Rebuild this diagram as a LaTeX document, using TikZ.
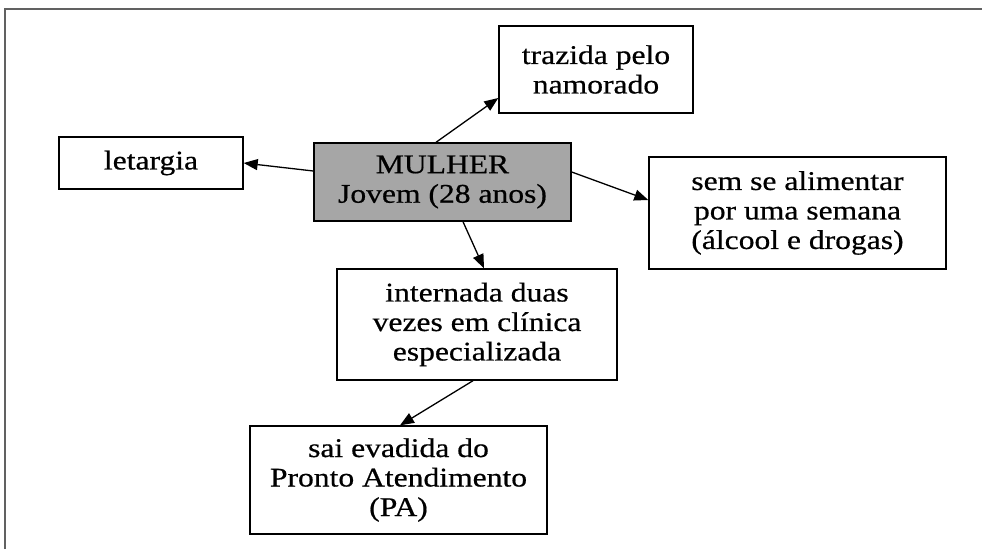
\documentclass[tikz,border=0pt]{standalone}
\usepackage{fontspec}
\setmainfont[FakeStretch=1.17,FakeBold=0.6]{Liberation Serif}
\usepackage{tikz}
\usetikzlibrary{arrows.meta}

\begin{document}
\begin{tikzpicture}[x=1pt,y=-1pt]
		\tikzset{caixa/.style={draw=black,line width=1.4pt,fill=white,inner sep=0pt,align=center,
				font=\fontsize{27}{29.5}\selectfont},
			seta/.style={draw=black,line width=1.3pt,-{Triangle[length=14pt,width=11pt]}}}
		\useasboundingbox (0,0) rectangle (982,549);
		\draw[black!62,line width=2.4pt] (5,549) |- (982,9);
		\node[caixa,fill=black!35,minimum width=257pt,minimum height=78pt] (mulher) at (442.5,182) {MULHER\\Jovem (28 anos)};
		\node[caixa,minimum width=194pt,minimum height=87pt] (trazida) at (596,69.5) {trazida pelo\\namorado};
		\node[caixa,minimum width=184pt,minimum height=52pt] (letargia) at (151,163) {letargia};
		\node[caixa,minimum width=297pt,minimum height=112pt] (semse) at (797.5,213) {sem se alimentar\\por uma semana\\(álcool e drogas)};
		\node[caixa,minimum width=280pt,minimum height=111pt] (internada) at (477,324.5) {internada duas\\vezes em clínica\\especializada};
		\node[caixa,minimum width=297pt,minimum height=108pt] (evadida) at (398.5,480) {sai evadida do\\Pronto Atendimento\\(PA)};
		\draw[seta] ([xshift=-6.5pt]mulher.north) -- ([yshift=-28.5pt]trazida.west);
		\draw[seta] ([yshift=11pt]mulher.west) -- (letargia.east);
		\draw[seta] ([yshift=10pt]mulher.east) -- ([yshift=13pt]semse.west);
		\draw[seta] ([xshift=20.5pt]mulher.south) -- ([xshift=7pt]internada.north);
		\draw[seta] ([xshift=-4pt]internada.south) -- ([xshift=1.5pt]evadida.north);
	\end{tikzpicture}
\end{document}
